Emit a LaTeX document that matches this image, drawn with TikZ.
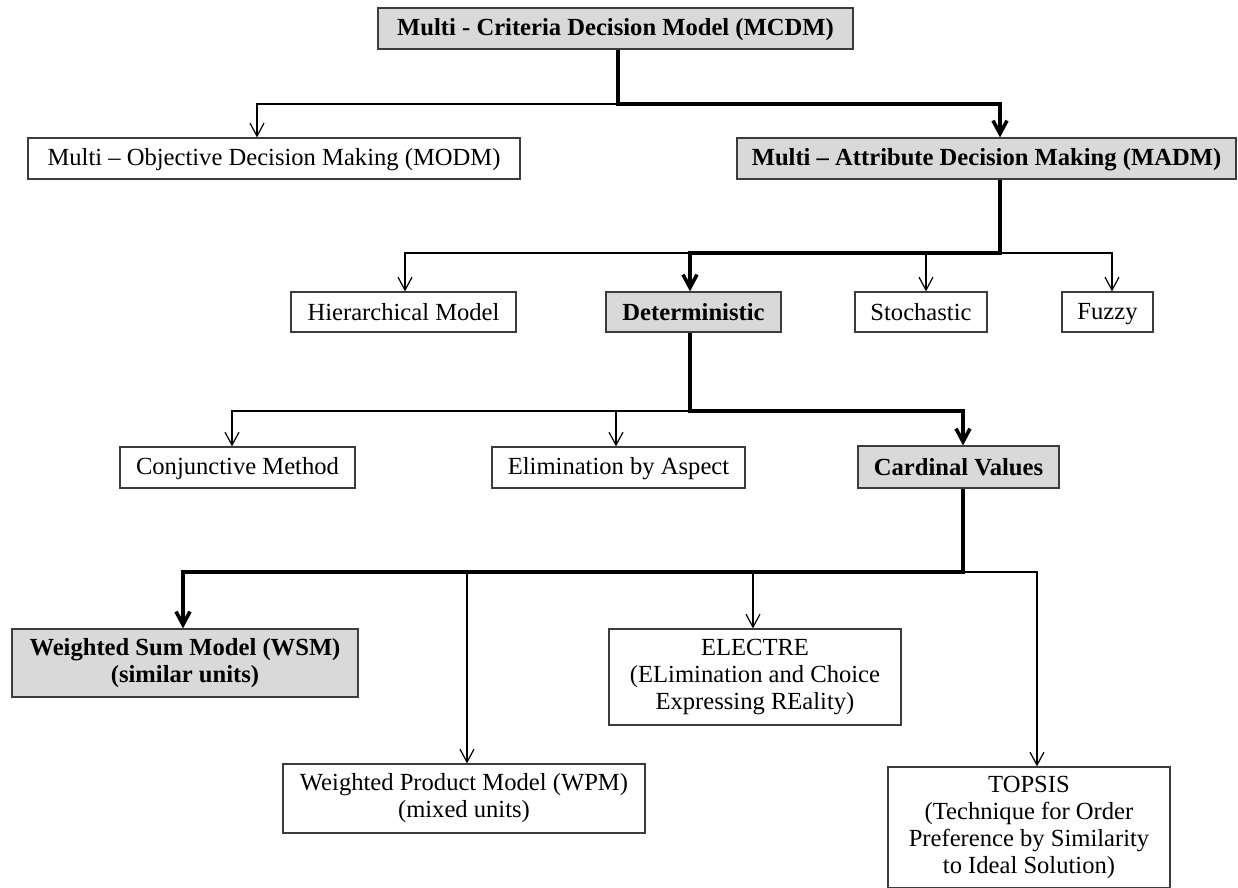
\documentclass[tikz,border=0pt]{standalone}
\usepackage{fontspec}
\setmainfont{Liberation Serif}
\usetikzlibrary{arrows.meta}
\definecolor{boxgrey}{RGB}{217,217,217}
\definecolor{rimgrey}{RGB}{60,60,60}
\newcommand{\boxstrut}{\rule[-2pt]{0pt}{12pt}}

\begin{document}
\begin{tikzpicture}[x=0.5pt,y=-0.5pt,>={Straight Barb[length=6.5pt,width=7pt]},main node/.style={draw=rimgrey,line width=0.6pt,inner sep=0pt,align=center,font=\fontsize{12.3}{13.5}\selectfont,execute at begin node=\boxstrut,execute at end node=\boxstrut},key node/.style={main node,fill=boxgrey,font=\fontsize{12.3}{13.5}\selectfont\bfseries},thin link/.style={->,line width=0.6pt},thick link/.style={->,line width=1.8pt}]
                \useasboundingbox (0,0) rectangle (1238,888);

                \node[key node,minimum width=237.5pt,minimum height=20.5pt] (mcdm) at (615.5,28.5) {Multi - Criteria Decision Model (MCDM)};
                \node[main node,minimum width=246pt,minimum height=20.5pt] (modm) at (274,158.5) {Multi -- Objective Decision Making (MODM)};
                \node[key node,minimum width=249.5pt,minimum height=20.5pt] (madm) at (986.5,158.5) {Multi -- Attribute Decision Making (MADM)};
                \node[main node,minimum width=112.5pt,minimum height=20pt] (hier) at (403.5,312) {Hierarchical Model};
                \node[key node,minimum width=87.5pt,minimum height=20pt] (det) at (693.5,312) {Deterministic};
                \node[main node,minimum width=66pt,minimum height=20pt] (stoch) at (921,312) {Stochastic};
                \node[main node,minimum width=45.5pt,minimum height=20pt] (fuzzy) at (1107.5,312) {Fuzzy};
                \node[main node,minimum width=117.5pt,minimum height=20.5pt] (conj) at (237.5,467.5) {Conjunctive Method};
                \node[main node,minimum width=126.5pt,minimum height=20.5pt] (elim) at (618.5,467.5) {Elimination by Aspect};
                \node[key node,minimum width=100.5pt,minimum height=21pt] (card) at (958.5,467) {Cardinal Values};
                \node[key node,minimum width=173pt,minimum height=34pt] (wsm) at (185,663) {Weighted Sum Model (WSM)\\(similar units)};
                \node[main node,minimum width=146pt,minimum height=48pt] (electre) at (755,677) {ELECTRE\\(ELimination and Choice\\Expressing REality)};
                \node[main node,minimum width=181pt,minimum height=34.5pt] (wpm) at (464,798.5) {Weighted Product Model (WPM)\\(mixed units)};
                \node[main node,minimum width=141pt,minimum height=60.5pt] (topsis) at (1029,827.5) {TOPSIS\\(Technique for Order\\Preference by Similarity\\to Ideal Solution)};

                \coordinate (j1) at (618,104);
                \coordinate (j2) at (1000,253);
                \coordinate (j3) at (690,411);
                \coordinate (j4) at (963,572);

                \draw[thin link] (j1) -| ([xshift=-8.5pt]modm.north);
                \draw[thin link] (j2) -| ([xshift=0.75pt]hier.north);
                \draw[thin link] (j2) -| ([xshift=2.5pt]stoch.north);
                \draw[thin link] (j2) -| ([xshift=2.25pt]fuzzy.north);
                \draw[thin link] (j3) -| ([xshift=-2.75pt]conj.north);
                \draw[thin link] (j3) -| ([xshift=-1.25pt]elim.north);
                \draw[thin link] (j4) -| ([xshift=1.5pt]wpm.north);
                \draw[thin link] (j4) -| ([xshift=-1pt]electre.north);
                \draw[thin link] (j4) -| ([xshift=4pt]topsis.north);

                \draw[thick link] (mcdm.south -| j1) -- (j1) -| ([xshift=6.75pt]madm.north);
                \draw[thick link] (madm.south -| j2) -- (j2) -| ([xshift=-1.75pt]det.north);
                \draw[thick link] (det.south -| j3) -- (j3) -| ([xshift=2.25pt]card.north);
                \draw[thick link] (card.south -| j4) -- (j4) -| ([xshift=-1pt]wsm.north);
            \end{tikzpicture}
\end{document}
